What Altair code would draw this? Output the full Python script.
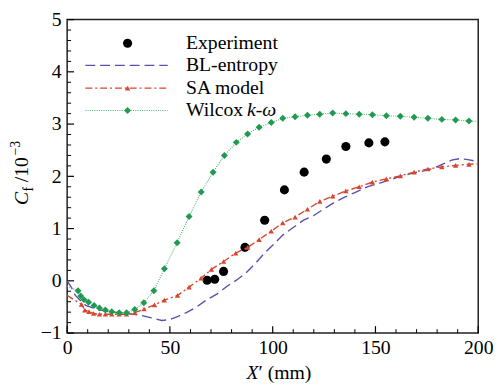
import altair as alt
import pandas as pd

# ---------------- data ----------------
exp_x = [68.1, 71.8, 76.1, 86.5, 96.1, 105.7, 115.3, 126.1, 135.6, 146.8, 154.6]
exp_y = [0.01, 0.03, 0.18, 0.64, 1.16, 1.74, 2.08, 2.33, 2.57, 2.64, 2.66]

bl_x = [0, 2, 4, 7, 9, 15, 20, 25, 30, 36, 41, 46, 50, 54, 58, 63, 68, 73, 78, 83, 87,
        92, 96, 101, 105, 110, 115, 120, 125, 130, 135, 140, 146, 152, 157, 162, 168,
        173, 178, 183, 187, 191, 195, 200]
bl_y = [0.0, -0.12, -0.28, -0.40, -0.47, -0.55, -0.59, -0.61, -0.63, -0.66, -0.71, -0.76,
        -0.74, -0.68, -0.61, -0.50, -0.36, -0.25, -0.10, 0.03, 0.15, 0.35, 0.53, 0.72,
        0.88, 1.02, 1.16, 1.25, 1.38, 1.50, 1.60, 1.69, 1.80, 1.87, 1.93, 2.00, 2.06,
        2.10, 2.15, 2.24, 2.31, 2.34, 2.32, 2.28]

sa_line_x = [0, 200]
sa_line_y = [-0.28, 2.24]
sa_x = [7.0, 8.6, 10.6, 12.9, 15.7, 18.6, 21.7, 25.3, 28.9, 32.9, 37.4, 42.5, 47.3,
        53.7, 59.3, 65.2, 70.2, 76.1, 82.0, 87.8, 93.4, 99.3, 104.9, 110.9, 116.9,
        122.9, 129.2, 135.6, 142.1, 148.5, 155.3, 162.1, 168.8, 175.5, 182.3, 189.0, 195.5]
sa_y = [-0.45, -0.56, -0.59, -0.625, -0.64, -0.64, -0.64, -0.64, -0.64, -0.61, -0.54,
        -0.46, -0.37, -0.28, -0.12, 0.05, 0.22, 0.37, 0.53, 0.64, 0.79, 0.95, 1.11, 1.22,
        1.37, 1.52, 1.62, 1.72, 1.80, 1.89, 1.95, 2.01, 2.08, 2.14, 2.18, 2.21, 2.23]

wk_line_x = [0, 200]
wk_line_y = [-0.1, 3.05]
wk_x = [5.3, 6.6, 8.2, 10.4, 13.1, 15.7, 18.6, 21.7, 25.3, 28.9, 32.9, 37.3, 42.2, 47.3,
        53.5, 59.3, 65.2, 71.0, 76.5, 82.3, 87.8, 93.4, 99.3, 104.9, 110.9, 116.9, 122.9,
        129.2, 135.6, 142.1, 148.5, 155.3, 162.1, 168.8, 175.5, 182.3, 189.0, 195.5]
wk_y = [-0.19, -0.29, -0.36, -0.41, -0.47, -0.52, -0.56, -0.59, -0.61, -0.61, -0.55,
        -0.42, -0.19, 0.23, 0.73, 1.23, 1.70, 2.08, 2.40, 2.65, 2.81, 2.94, 3.03, 3.11,
        3.14, 3.17, 3.19, 3.21, 3.20, 3.19, 3.18, 3.16, 3.15, 3.13, 3.11, 3.09, 3.08, 3.06]

x_major = [0, 50, 100, 150, 200]
x_minor = [10, 20, 30, 40, 60, 70, 80, 90, 110, 120, 130, 140, 160, 170, 180, 190]
y_major = [-1, 0, 1, 2, 3, 4, 5]
y_minor = [-0.8, -0.6, -0.4, -0.2, 0.2, 0.4, 0.6, 0.8, 1.2, 1.4, 1.6, 1.8, 2.2, 2.4,
           2.6, 2.8, 3.2, 3.4, 3.6, 3.8, 4.2, 4.4, 4.6, 4.8]

legend_labels = ["Experiment", "BL-entropy", "SA model", "Wilcox "]

# ---------------- styling ----------------
W, H = 417, 318
FONT = "Liberation Serif"
C_BL = "#5b4fae"
C_SA = "#d9462f"
C_WK = "#1f9a50"
C_WK_LINE = "#4cb270"

xs = alt.Scale(domain=[0, 200], nice=False, zero=False)
ys = alt.Scale(domain=[-1, 5], nice=False, zero=False)
ax_x = alt.Axis(values=x_major, title=None, ticks=False, tickSize=0, domain=False,
                grid=False, labelFont=FONT, labelFontSize=20, labelColor="black",
                labelPadding=5, labelFlush=False, labelOverlap=False)
ax_y = alt.Axis(values=y_major, title=None, ticks=False, tickSize=0, domain=False,
                grid=False, labelFont=FONT, labelFontSize=20, labelColor="black",
                labelPadding=6, labelExpr="replace(datum.label, '-', '\u2212')",
                labelOverlap=False)

exp_df = pd.DataFrame({"x": exp_x, "y": exp_y})
bl_df = pd.DataFrame({"x": bl_x, "y": bl_y})
sa_line_df = pd.DataFrame({"x": sa_line_x[:1] + sa_x + sa_line_x[1:],
                           "y": sa_line_y[:1] + sa_y + sa_line_y[1:]})
sa_df = pd.DataFrame({"x": sa_x, "y": sa_y})
wk_line_df = pd.DataFrame({"x": wk_line_x[:1] + wk_x + wk_line_x[1:],
                           "y": wk_line_y[:1] + wk_y + wk_line_y[1:]})
wk_df = pd.DataFrame({"x": wk_x, "y": wk_y})

X = alt.X("x:Q", scale=xs, axis=ax_x)
Y = alt.Y("y:Q", scale=ys, axis=ax_y)

# ticks (inward)
xt_major = alt.Chart(pd.DataFrame({"x": x_major})).mark_rule(color="black", strokeWidth=1.2).encode(
    x=X, y=alt.value(H), y2=alt.value(H - 7))
xt_minor = alt.Chart(pd.DataFrame({"x": x_minor})).mark_rule(color="black", strokeWidth=1).encode(
    x=X, y=alt.value(H), y2=alt.value(H - 4))
yt_major = alt.Chart(pd.DataFrame({"y": y_major})).mark_rule(color="black", strokeWidth=1.2).encode(
    y=Y, x=alt.value(0), x2=alt.value(7))
yt_minor = alt.Chart(pd.DataFrame({"y": y_minor})).mark_rule(color="black", strokeWidth=1).encode(
    y=Y, x=alt.value(0), x2=alt.value(4))

bl_line = alt.Chart(bl_df).mark_line(color=C_BL, strokeWidth=1.4, strokeDash=[10, 5]).encode(x=X, y=Y)
sa_line = alt.Chart(sa_line_df).mark_line(color=C_SA, strokeWidth=1.4, strokeDash=[7, 3, 2, 3]).encode(x=X, y=Y)
wk_line = alt.Chart(wk_line_df).mark_line(color=C_WK_LINE, strokeWidth=1.1, strokeDash=[1, 1.3]).encode(x=X, y=Y)
sa_pts = alt.Chart(sa_df).mark_point(shape="triangle-up", filled=True, color=C_SA, size=30, opacity=1).encode(x=X, y=Y)
wk_pts = alt.Chart(wk_df).mark_point(shape="diamond", filled=True, color=C_WK, size=50, opacity=1).encode(x=X, y=Y)
exp_pts = alt.Chart(exp_df).mark_circle(color="black", size=85, opacity=1).encode(x=X, y=Y)

# ---------------- manual legend ----------------
one = pd.DataFrame({"a": [0]})
rows = [24, 46.5, 69.5, 92.3]
lx0, lx1, lmx, ltx = 18.5, 102, 61.3, 120.5

leg = [
    alt.Chart(one).mark_circle(color="black", size=85, opacity=1).encode(x=alt.value(lmx), y=alt.value(rows[0])),
    alt.Chart(one).mark_rule(color=C_BL, strokeWidth=1.4, strokeDash=[10, 5]).encode(
        x=alt.value(lx0), x2=alt.value(lx1), y=alt.value(rows[1])),
    alt.Chart(one).mark_rule(color=C_SA, strokeWidth=1.4, strokeDash=[7, 3, 2, 3]).encode(
        x=alt.value(lx0), x2=alt.value(lx1), y=alt.value(rows[2])),
    alt.Chart(one).mark_point(shape="triangle-up", filled=True, color=C_SA, size=30, opacity=1).encode(
        x=alt.value(lmx), y=alt.value(rows[2])),
    alt.Chart(one).mark_rule(color=C_WK_LINE, strokeWidth=1.1, strokeDash=[1, 1.3]).encode(
        x=alt.value(lx0), x2=alt.value(lx1), y=alt.value(rows[3])),
    alt.Chart(one).mark_point(shape="diamond", filled=True, color=C_WK, size=50, opacity=1).encode(
        x=alt.value(lmx), y=alt.value(rows[3])),
]
for lab, ry in zip(legend_labels, rows):
    leg.append(alt.Chart(one).mark_text(text=lab, font=FONT, fontSize=20, align="left",
                                        baseline="middle", color="black").encode(
        x=alt.value(ltx), y=alt.value(ry)))
leg.append(alt.Chart(one).mark_text(text="k-\u03c9", font=FONT, fontSize=20, fontStyle="italic",
                                    align="left", baseline="middle", color="black").encode(
    x=alt.value(ltx + 62), y=alt.value(rows[3])))

# ---------------- axis titles ----------------
titles = [
    alt.Chart(one).mark_text(text="X", font=FONT, fontSize=20, fontStyle="italic", align="left",
                             baseline="alphabetic", color="black").encode(x=alt.value(182), y=alt.value(365)),
    alt.Chart(one).mark_text(text="\u2032 (mm)", font=FONT, fontSize=20, align="left",
                             baseline="alphabetic", color="black").encode(x=alt.value(194), y=alt.value(365)),
    alt.Chart(one).mark_text(text="C", font=FONT, fontSize=20, fontStyle="italic", align="left",
                             baseline="alphabetic", angle=270, color="black").encode(x=alt.value(-40), y=alt.value(188)),
    alt.Chart(one).mark_text(text="f", font=FONT, fontSize=14, align="left",
                             baseline="alphabetic", angle=270, color="black").encode(x=alt.value(-35), y=alt.value(174.5)),
    alt.Chart(one).mark_text(text="/10", font=FONT, fontSize=20, align="left",
                             baseline="alphabetic", angle=270, color="black").encode(x=alt.value(-40), y=alt.value(165)),
    alt.Chart(one).mark_text(text="\u22123", font=FONT, fontSize=14, align="left",
                             baseline="alphabetic", angle=270, color="black").encode(x=alt.value(-48), y=alt.value(138)),
]

chart = alt.layer(
    exp_pts, xt_major, xt_minor, yt_major, yt_minor,
    bl_line, sa_line, wk_line, sa_pts, wk_pts, *leg, *titles
).properties(
    width=W, height=H,
    background="white",
    autosize=alt.AutoSizeParams(type="none"),
    padding={"left": 60, "top": 9, "right": 16, "bottom": 55},
).configure_view(stroke="#222", strokeWidth=1.5).configure_axis(
    labelFont=FONT, labelFontSize=20, labelColor="black"
)

chart.save("out.html", embed_options={"renderer": "svg", "actions": False})
